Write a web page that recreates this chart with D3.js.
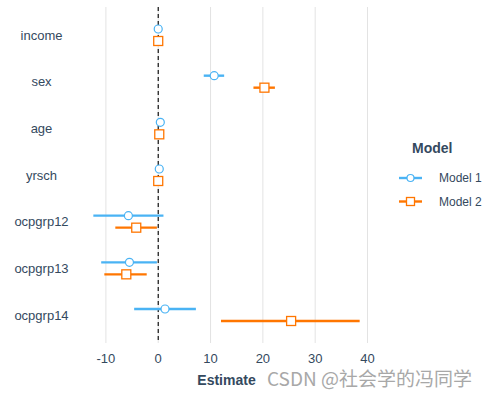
<!DOCTYPE html>
<html>
<head>
<meta charset="utf-8">
<script src="https://cdn.jsdelivr.net/npm/d3@7.9.0/dist/d3.min.js"></script>
<style>
  body { margin: 0; background: #fff; }
  svg { display: block; font-family: "Liberation Sans", Arial, sans-serif; }
</style>
</head>
<body>
<svg id="chart" width="487" height="394"></svg>
<script>
const terms = ['income', 'sex', 'age', 'yrsch', 'ocpgrp12', 'ocpgrp13', 'ocpgrp14'];
const models = ['Model 1', 'Model 2'];

// point estimates and confidence limits
const est1 = [0.0, 10.7, 0.4, 0.2, -5.7, -5.5, 1.3];
const lo1 = [-0.1, 8.7, 0.2, 0.0, -12.4, -10.9, -4.6];
const hi1 = [0.1, 12.6, 0.6, 0.4, 1.0, -0.25, 7.2];

const est2 = [0.0, 20.3, 0.2, 0.0, -4.2, -6.1, 25.4];
const lo2 = [-0.1, 18.2, 0.0, -0.2, -8.2, -10.3, 12.0];
const hi2 = [0.1, 22.3, 0.4, 0.2, -0.25, -2.2, 38.5];

const xTicks = [-10, 0, 10, 20, 30, 40];

const colors = { 'Model 1': '#4ab3f4', 'Model 2': '#ff7600' };
const textColor = '#34495e';

const svg = d3.select('#chart');
const panel = { left: 80, right: 373, top: 7, bottom: 343 };

const x = d3.scaleLinear().domain([-14.95, 41.05]).range([panel.left, panel.right]);
const y = d3.scalePoint().domain(terms).range([panel.top, panel.bottom]).padding(0.6);
const offset = d3.scalePoint().domain(models).range([-6, 6]);

// vertical grid
svg.append('g')
  .selectAll('line')
  .data(xTicks)
  .join('line')
  .attr('x1', (d) => x(d)).attr('x2', (d) => x(d))
  .attr('y1', panel.top).attr('y2', panel.bottom)
  .attr('stroke', '#e3e3e3')
  .attr('stroke-width', 1);

// zero reference
svg.append('line')
  .attr('x1', x(0)).attr('x2', x(0))
  .attr('y1', panel.top).attr('y2', panel.bottom)
  .attr('stroke', '#000')
  .attr('stroke-width', 1.1)
  .attr('stroke-dasharray', '4,3');

const rows = [];
terms.forEach((t, i) => {
  rows.push({ term: t, model: 'Model 1', est: est1[i], lo: lo1[i], hi: hi1[i] });
  rows.push({ term: t, model: 'Model 2', est: est2[i], lo: lo2[i], hi: hi2[i] });
});
const yPos = (d) => y(d.term) + offset(d.model);

svg.append('g')
  .selectAll('line')
  .data(rows)
  .join('line')
  .attr('x1', (d) => x(d.lo)).attr('x2', (d) => x(d.hi))
  .attr('y1', yPos).attr('y2', yPos)
  .attr('stroke', (d) => colors[d.model])
  .attr('stroke-width', 2.4);

const marks = svg.append('g');
marks.selectAll('circle')
  .data(rows.filter((d) => d.model === 'Model 1'))
  .join('circle')
  .attr('cx', (d) => x(d.est))
  .attr('cy', yPos)
  .attr('r', 4)
  .attr('fill', '#fff')
  .attr('stroke', colors['Model 1'])
  .attr('stroke-width', 1.2);

marks.selectAll('rect')
  .data(rows.filter((d) => d.model === 'Model 2'))
  .join('rect')
  .attr('x', (d) => x(d.est) - 4.5)
  .attr('y', (d) => yPos(d) - 4.5)
  .attr('width', 9).attr('height', 9)
  .attr('fill', '#fff')
  .attr('stroke', colors['Model 2'])
  .attr('stroke-width', 1.3);

// y labels
svg.append('g')
  .selectAll('text')
  .data(terms)
  .join('text')
  .attr('x', 41.5)
  .attr('y', (d) => y(d))
  .attr('dy', '0.35em')
  .attr('text-anchor', 'middle')
  .attr('fill', textColor)
  .attr('font-size', 13)
  .text((d) => d);

// x axis labels
svg.append('g')
  .selectAll('text')
  .data(xTicks)
  .join('text')
  .attr('x', (d) => x(d))
  .attr('y', 358.5)
  .attr('dy', '0.35em')
  .attr('text-anchor', 'middle')
  .attr('fill', textColor)
  .attr('font-size', 13)
  .text((d) => d);

svg.append('text')
  .attr('x', (panel.left + panel.right) / 2)
  .attr('y', 385)
  .attr('text-anchor', 'middle')
  .attr('fill', textColor)
  .attr('font-size', 14)
  .attr('font-weight', 'bold')
  .text('Estimate');

// legend
const legend = svg.append('g').attr('transform', 'translate(399,0)');
legend.append('text')
  .attr('x', 13).attr('y', 153)
  .attr('fill', textColor)
  .attr('font-size', 14)
  .attr('font-weight', 'bold')
  .text('Model');

const items = legend.selectAll('g.item')
  .data(models)
  .join('g')
  .attr('class', 'item')
  .attr('transform', (_d, i) => `translate(0,${178 + i * 23.5})`);

items.append('line')
  .attr('x1', 0).attr('x2', 23)
  .attr('stroke', (d) => colors[d])
  .attr('stroke-width', 2.4);

items.filter((d) => d === 'Model 1').append('circle')
  .attr('cx', 11.5).attr('r', 3.5)
  .attr('fill', '#fff')
  .attr('stroke', colors['Model 1'])
  .attr('stroke-width', 1.2);

items.filter((d) => d === 'Model 2').append('rect')
  .attr('x', 7.5).attr('y', -4).attr('width', 8).attr('height', 8)
  .attr('fill', '#fff')
  .attr('stroke', colors['Model 2'])
  .attr('stroke-width', 1.3);

items.append('text')
  .attr('x', 40).attr('dy', '0.35em')
  .attr('fill', textColor)
  .attr('font-size', 12)
  .text((d) => d);

// watermark
svg.append('text')
  .attr('x', 472).attr('y', 386)
  .attr('text-anchor', 'end')
  .attr('fill', '#a8a8a8')
  .attr('stroke', '#fff')
  .attr('stroke-width', 0.6)
  .attr('paint-order', 'stroke')
  .attr('font-size', 19)
  .attr('font-family', '"Noto Sans CJK SC", sans-serif')
  .text('CSDN @社会学的冯同学');
</script>
</body>
</html>
